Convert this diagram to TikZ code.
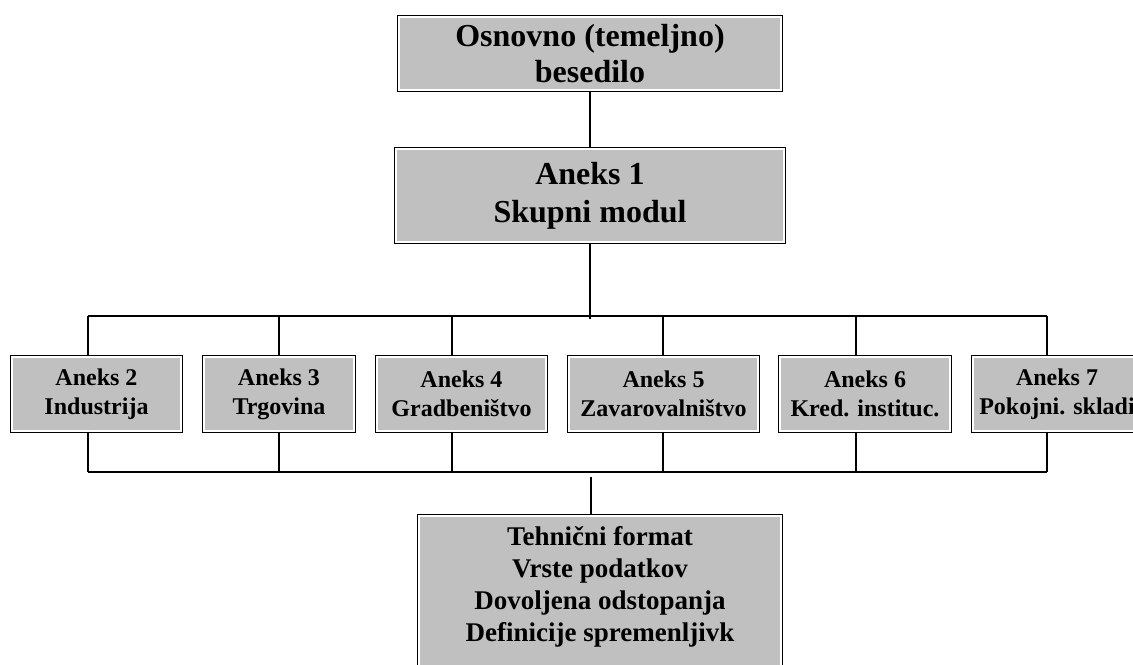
\documentclass[tikz,border=0pt]{standalone}
\usepackage{fontspec}
\setmainfont{Liberation Serif}
\usepackage{tikz}
\definecolor{boxgray}{RGB}{192,192,192}

\begin{document}
\begin{tikzpicture}[x=0.5pt, y=-0.5pt, line width=0.7pt,
    box/.style={preaction={draw=black, line width=2.4pt}, fill=boxgray, draw=white, line width=1pt,
                inner sep=0pt, align=center, font=\bfseries},
    annex/.style={box, minimum height=36.6pt, font=\fontsize{12}{14.5}\selectfont\bfseries}]

    \path[use as bounding box, clip] (0,0) rectangle (1133,664);

    \node[box, minimum width=190.6pt, minimum height=36.1pt, text depth=-4pt, font=\fontsize{16}{18}\selectfont\bfseries] (osnova) at (590,53.5) {Osnovno (temeljno)\\besedilo};
    \node[box, minimum width=193.6pt, minimum height=46.1pt, font=\fontsize{16}{19}\selectfont\bfseries] (a1) at (590,195.5) {Aneks 1\\Skupni modul};

    \node[annex, minimum width=84.1pt] (a2) at (96.5,394) {Aneks 2\\Industrija};
    \node[annex, minimum width=74.6pt] (a3) at (279,394) {Aneks 3\\Trgovina};
    \node[annex, minimum width=84.1pt] (a4) at (461.5,394) {Aneks 4\\Gradbeništvo};
    \node[annex, minimum width=94.1pt] (a5) at (663.5,394) {Aneks 5\\Zavarovalništvo};
    \node[annex, minimum width=84.6pt] (a6) at (865,394) {Aneks 6\\Kred. instituc.};
    \node[annex, minimum width=83.6pt] (a7) at (1057,394) {Aneks 7\\Pokojni. skladi};

    \node[box, minimum width=180.6pt, minimum height=90.6pt, text depth=23.5pt, font=\fontsize{13.5}{16}\selectfont\bfseries] (tehnika) at (600,607)
        {Tehnični format\\Vrste podatkov\\Dovoljena odstopanja\\Definicije spremenljivk};

    % razvod zgoraj in spodaj
    \foreach \i/\x in {2/88, 3/279, 4/452, 5/663, 6/856, 7/1047} {
        \coordinate (g\i) at (\x,316);
        \coordinate (s\i) at (\x,472);
        \draw (g\i) -- (g\i |- a\i.north);
        \draw (s\i |- a\i.south) -- (s\i);
    }
    \draw (g2) -- (g7);
    \draw (s2) -- (s7);

    \draw (osnova.south) -- (a1.north);
    \draw (a1.south) -- ([yshift=-1.5pt]a1.south |- g2);
    \coordinate (stik) at (591,477);
    \draw (stik) -- (stik |- tehnika.north);

\end{tikzpicture}
\end{document}
